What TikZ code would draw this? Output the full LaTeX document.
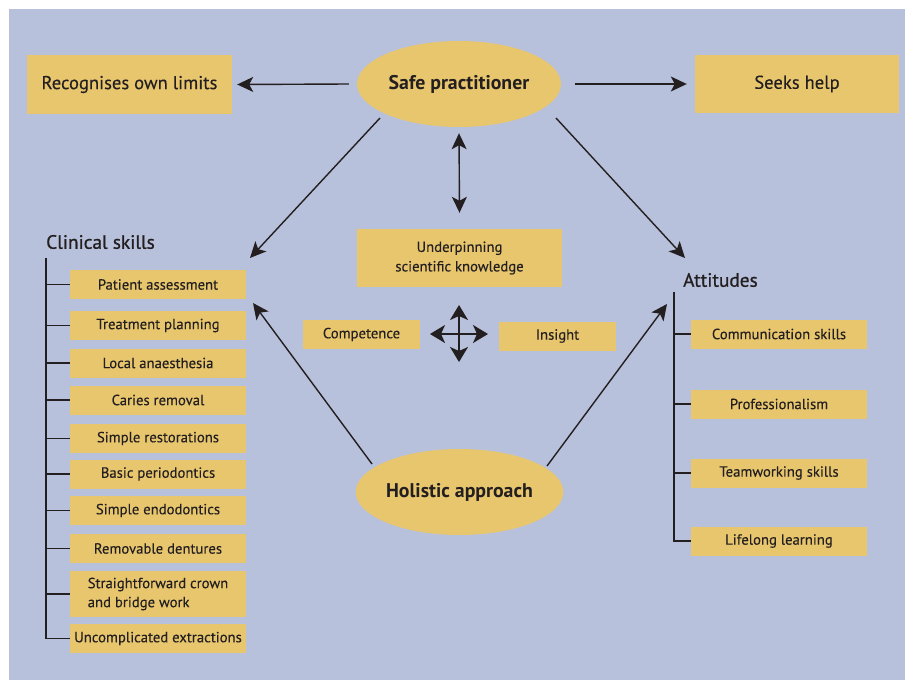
\documentclass[tikz,border=0pt]{standalone}
\usepackage{fontspec}
\setmainfont{PT Sans}[FakeBold=0.2]
\newfontfamily\titlefont{PT Sans}[FakeBold=0.9]
\newfontfamily\ovalfont{PT Sans Bold}
\usetikzlibrary{shapes.geometric,arrows.meta,calc}
\definecolor{bg}{HTML}{B8C1DB}
\definecolor{ybox}{HTML}{E8C66E}
\definecolor{ink}{HTML}{231F20}
\begin{document}
\begin{tikzpicture}[x=1pt,y=-1pt,
  box/.style={fill=ybox, inner sep=0pt, text=ink, align=center},
  bigbox/.style={box, minimum width=205pt, minimum height=58pt, font=\fontsize{18.6}{21}\selectfont},
  sbox/.style={box, minimum width=176pt, minimum height=29pt, font=\fontsize{14.7}{17}\selectfont},
  mbox/.style={box, minimum width=117pt, minimum height=29pt, font=\fontsize{14.7}{17}\selectfont},
  oval/.style={ellipse, fill=ybox, minimum width=204pt, minimum height=86pt, inner sep=0pt, text=ink, font=\ovalfont\fontsize{19.8}{22}\selectfont},
  title/.style={anchor=west, inner sep=0pt, text=ink, font=\titlefont\fontsize{19.3}{22}\selectfont},
  arr/.style={draw=ink, line width=1.4pt, -{Stealth[length=16pt,width=15pt,inset=4pt]}},
  darr/.style={draw=ink, line width=1.4pt, {Stealth[length=16pt,width=15pt,inset=4pt]}-{Stealth[length=16pt,width=15pt,inset=4pt]}},
  crarr/.style={draw=ink, line width=1.8pt, {Stealth[length=15pt,width=18pt,inset=4pt]}-{Stealth[length=15pt,width=18pt,inset=4pt]}},
  tree/.style={draw=ink, line width=1.8pt},
]
\useasboundingbox (0,0) rectangle (905,680);
\fill[white] (0,0) rectangle (905,680);
\fill[bg] (9,9) rectangle (905,680);

% top row
\node[oval] (safe) at (459,84) {Safe practitioner};
\node[bigbox, minimum height=59pt] (rec) at (129.5,84.5) {Recognises own limits};
\node[bigbox, minimum width=204pt] (seek) at (797,84) {Seeks help};
\draw[arr] ($(safe.west)+(-8,0)$) -- ($(rec.east)+(5,0)$);
\draw[arr] ($(safe.east)+(14,0)$) -- ($(seek.west)+(-8,0)$);

% centre
\node[box, minimum width=205pt, minimum height=58pt, font=\fontsize{14.7}{19.5}\selectfont] (under) at (459.5,258) {Underpinning\\scientific knowledge};
\draw[darr] ($(safe.south)+(0,6)$) -- ($(under.north)+(0,-16)$);
\node[mbox] (comp) at (361.5,334.5) {Competence};
\node[mbox] (ins) at (557.5,336) {Insight};
\coordinate (cross) at (459,334);
\draw[crarr] ($(cross)+(-29,0)$) -- ($(cross)+(29,0)$);
\draw[crarr] ($(cross)+(0,-29)$) -- ($(cross)+(0,28)$);
\node[oval] (hol) at (459.5,492) {Holistic approach};

% diagonals
\coordinate (clintip) at (250,258);
\coordinate (atttip) at (685,258);
\coordinate (clintip2) at (253,303);
\coordinate (atttip2) at (667,304);
\draw[arr] ($(safe.center)+(-79,34)$) -- (clintip);
\draw[arr] ($(safe.center)+(97,34)$) -- (atttip);
\draw[arr] ($(hol.center)+(-87.5,-28)$) -- (clintip2);
\draw[arr] ($(hol.center)+(87.5,-26)$) -- (atttip2);

% clinical skills
\node[title] (clin) at (46,242) {Clinical skills};
\coordinate (ctop) at (46,258);
\node[sbox] (c1) at (158,284.5) {Patient assessment};
\node[sbox] (c2) at (158,325.5) {Treatment planning};
\node[sbox] (c3) at (158,363) {Local anaesthesia};
\node[sbox] (c4) at (158,400) {Caries removal};
\node[sbox] (c5) at (158,438.5) {Simple restorations};
\node[sbox] (c6) at (158,474) {Basic periodontics};
\node[sbox] (c7) at (158,510.5) {Simple endodontics};
\node[sbox] (c8) at (158,548.5) {Removable dentures};
\node[sbox, minimum height=46pt, align=left, font=\fontsize{14.7}{19}\selectfont] (c9) at (158,594) {Straightforward crown\\and bridge work};
\node[sbox] (c10) at (158,638.5) {Uncomplicated extractions};
\draw[tree] (ctop) |- (c10.west);
\foreach \n in {c1,c2,c3,c4,c5,c6,c7,c8,c9}
  \draw[tree] (\n.west) -- (\n.west -| ctop);

% attitudes
\node[title] (att) at (683,280) {Attitudes};
\coordinate (atop) at (674,292);
\node[sbox] (a1) at (779,334) {Communication skills};
\node[sbox] (a2) at (779,404) {Professionalism};
\node[sbox] (a3) at (779,473) {Teamworking skills};
\node[sbox] (a4) at (779,541) {Lifelong learning};
\draw[tree] (atop) |- (a4.west);
\foreach \n in {a1,a2,a3}
  \draw[tree] (\n.west) -- (\n.west -| atop);
\end{tikzpicture}
\end{document}
